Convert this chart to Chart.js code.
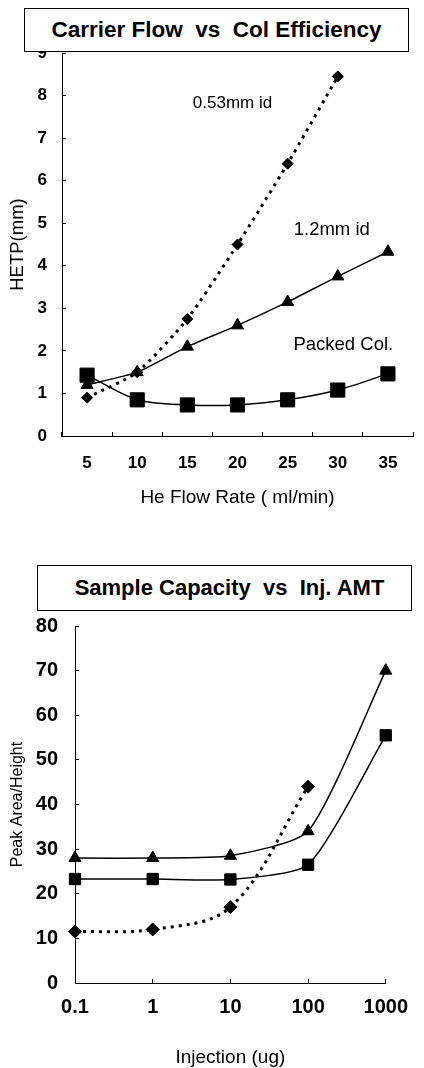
<!DOCTYPE html>
<html><head><meta charset="utf-8">
<script src="https://cdn.jsdelivr.net/npm/chart.js@4.4.1/dist/chart.umd.min.js"></script>
<style>
html,body{margin:0;padding:0;background:#fff;width:424px;height:1068px;overflow:hidden;}
canvas{position:absolute;left:0;}
#c1{top:0;}
#c2{top:540px;}
.tbox{position:absolute;background:#fff;border:1.5px solid #000;font-family:'Liberation Sans',Arial,sans-serif;font-weight:bold;font-size:22px;display:flex;align-items:center;justify-content:center;white-space:pre;box-sizing:border-box;color:#000;}
</style></head><body>
<canvas id="c1" width="424" height="520"></canvas>
<canvas id="c2" width="424" height="528"></canvas>
<div class="tbox" style="left:24px;top:8px;width:385px;height:44px;font-size:22.5px;">Carrier Flow  vs  Col Efficiency</div>
<div class="tbox" style="left:37px;top:565px;width:375px;height:46px;padding-left:10px;font-size:22px;">Sample Capacity  vs  Inj. AMT</div>
<script>
// ---------- Chart 1 data ----------
const flowRates = ['5','10','15','20','25','30','35'];
const hetp053 = [0.9, 1.5, 2.75, 4.5, 6.4, 8.45];
const hetp12 = [1.2, 1.5, 2.1, 2.6, 3.15, 3.75, 4.33];
const hetpPacked = [1.43, 0.85, 0.73, 0.73, 0.85, 1.08, 1.46];
const series1Names = ['0.53mm id', '1.2mm id', 'Packed Col.'];
// ---------- Chart 2 data ----------
const injections = [0.1, 1, 10, 100, 1000];
const capDiamond = [11.5, 12, 17, 44];
const capTriangle = [28, 28, 28.5, 34, 70];
const capSquare = [23.3, 23.3, 23.2, 26.5, 55.5];
const injTickLabels = ['0.1', '1', '10', '100', '1000'];

const NARROW = "'Liberation Sans Narrow','Liberation Sans',Arial,sans-serif";
const SANS = "'Liberation Sans',Arial,sans-serif";

function annotPlugin(items){
  return {
    id:'annot',
    afterDatasetsDraw(chart){
      const {ctx, scales:{x,y}} = chart;
      ctx.save();
      ctx.fillStyle='#000'; ctx.textAlign='center'; ctx.textBaseline='middle';
      items.forEach(it=>{
        ctx.font = it.font;
        ctx.fillText(it.text, x.getPixelForValue(it.x), y.getPixelForValue(it.y));
      });
      ctx.restore();
    }
  };
}

const blackAxis = {
  grid:{display:true, drawOnChartArea:false, drawTicks:true, tickLength:-4, color:'#000', lineWidth:1},
  border:{display:true, color:'#000', width:1}
};

new Chart(document.getElementById('c1'), {
  type:'line',
  data:{
    labels: flowRates,
    datasets:[
      {label:series1Names[0], data:hetp053, borderColor:'#000', backgroundColor:'#000', borderWidth:3, borderDash:[3,5],
       pointStyle:'rectRot', pointRadius:5.5, pointBorderWidth:1, tension:0.2, clip:false},
      {label:series1Names[1], data:hetp12, borderColor:'#000', backgroundColor:'#000', borderWidth:1.5,
       pointStyle:'triangle', pointRadius:7, pointBorderWidth:1, tension:0.2, clip:false},
      {label:series1Names[2], data:hetpPacked, borderColor:'#000', backgroundColor:'#000', borderWidth:1.5,
       pointStyle:'rect', pointRadius:10, pointBorderWidth:1, tension:0.3, clip:false}
    ]
  },
  options:{
    responsive:false, animation:false,
    layout:{padding:{top:53, right:0, left:0, bottom:0}},
    plugins:{legend:{display:false}, tooltip:{enabled:false}},
    scales:{
      x:{type:'category', offset:true,
         grid:{...blackAxis.grid, offset:true}, border:blackAxis.border,
         ticks:{color:'#000', padding:21, font:{family:NARROW, size:17, weight:'bold'}},
         title:{display:true, text:'He Flow Rate ( ml/min)', color:'#000', font:{family:SANS, size:19}, padding:{top:0,bottom:10.5}},
         afterFit(s){ s.height = 84; }
      },
      y:{min:0, max:9,
         grid:blackAxis.grid, border:blackAxis.border,
         ticks:{stepSize:1, color:'#000', padding:19, font:{family:NARROW, size:17, weight:'bold'}},
         title:{display:true, text:'HETP(mm)', color:'#000', font:{family:SANS, size:18.5}, padding:{top:7,bottom:0}},
         afterFit(s){ s.width = 62; }
      }
    }
  },
  plugins:[annotPlugin([
    {text:series1Names[0], x:2.9, y:7.82, font:"17px "+SANS},
    {text:series1Names[1], x:4.88, y:4.84, font:"18.5px "+SANS},
    {text:series1Names[2], x:5.11, y:2.14, font:"18.5px "+SANS}
  ])]
});

const pts = arr => arr.map((v,i)=>({x:injections[i], y:v}));

new Chart(document.getElementById('c2'), {
  type:'line',
  data:{
    datasets:[
      {label:'diamond', data:pts(capDiamond), borderColor:'#000', backgroundColor:'#000', borderWidth:3, borderDash:[3,5],
       pointStyle:'rectRot', pointRadius:6.5, pointBorderWidth:1, tension:0.35, clip:false},
      {label:'triangle', data:pts(capTriangle), borderColor:'#000', backgroundColor:'#000', borderWidth:1.5,
       pointStyle:'triangle', pointRadius:7, pointBorderWidth:1, tension:0.2, clip:false},
      {label:'square', data:pts(capSquare), borderColor:'#000', backgroundColor:'#000', borderWidth:1.5,
       pointStyle:'rect', pointRadius:8, pointBorderWidth:1, tension:0.2, clip:false}
    ]
  },
  options:{
    responsive:false, animation:false,
    layout:{padding:{top:86, right:33, left:0, bottom:0}},
    plugins:{legend:{display:false}, tooltip:{enabled:false}},
    scales:{
      x:{type:'logarithmic', min:injections[0], max:injections[injections.length-1],
         grid:blackAxis.grid, border:blackAxis.border,
         afterBuildTicks(s){ s.ticks = injections.map(v=>({value:v})); },
         ticks:{color:'#000', padding:16, font:{family:NARROW, size:20, weight:'bold'},
                callback:(v)=>{ const i = injections.indexOf(v); return i>=0 ? injTickLabels[i] : ''; }},
         title:{display:true, text:'Injection (ug)', color:'#000', font:{family:SANS, size:19, lineHeight:1}, padding:{top:0,bottom:0.5}},
         afterFit(s){ s.height = 85; }
      },
      y:{min:0, max:80,
         grid:blackAxis.grid, border:blackAxis.border,
         ticks:{stepSize:10, color:'#000', padding:21, font:{family:NARROW, size:20, weight:'bold'}},
         title:{display:true, text:'Peak Area/Height', color:'#000', font:{family:SANS, size:16}, padding:{top:8.4,bottom:0}},
         afterFit(s){ s.width = 75; }
      }
    }
  }
});
</script>
</body></html>
